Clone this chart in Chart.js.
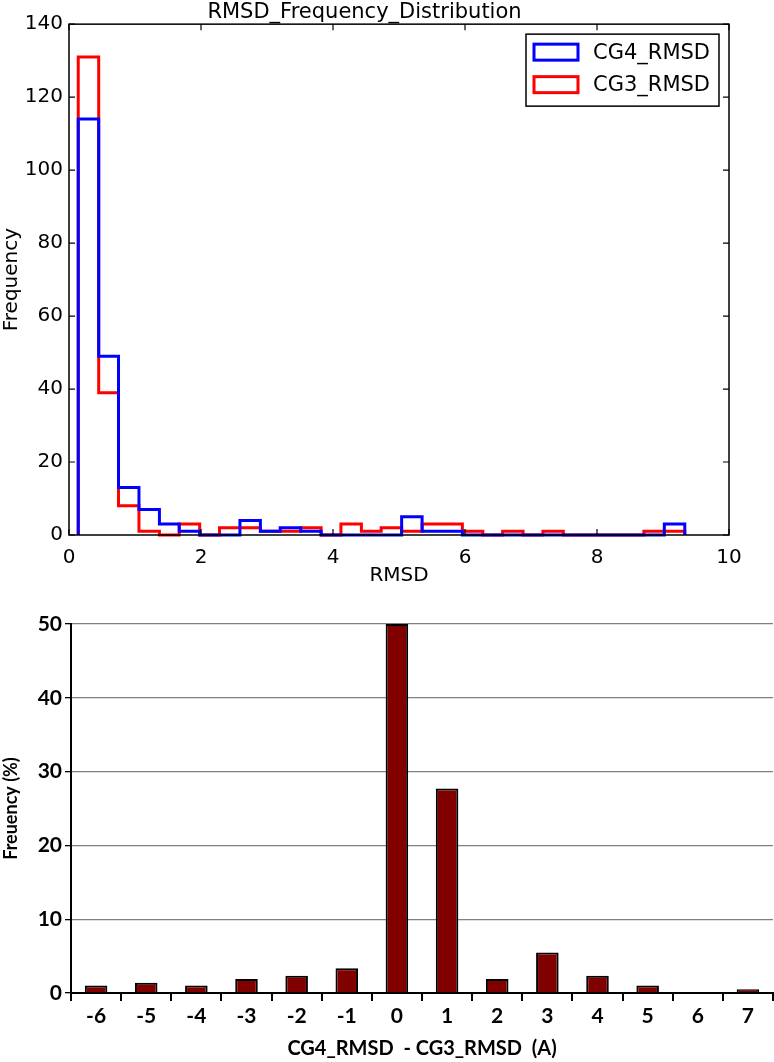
<!DOCTYPE html>
<html>
<head>
<meta charset="utf-8">
<script src="https://cdn.jsdelivr.net/npm/chart.js@4.4.1/dist/chart.umd.min.js"></script>
<style>
  html, body { margin: 0; padding: 0; background: #fff; }
  canvas { display: block; }
</style>
</head>
<body>
<canvas id="histChart" width="774" height="590"></canvas>
<canvas id="diffChart" width="774" height="472"></canvas>
<script>
// ── Data ──────────────────────────────────────────────────────────────────────
// histogram bin edges (RMSD, 30 bins)
const BIN_EDGES = [0.14, 0.45, 0.75, 1.06, 1.37, 1.67, 1.98, 2.28, 2.59, 2.90,
                   3.20, 3.51, 3.82, 4.12, 4.43, 4.73, 5.04, 5.35, 5.65, 5.96,
                   6.27, 6.57, 6.88, 7.18, 7.49, 7.80, 8.10, 8.41, 8.71, 9.02, 9.33];
const CG4_COUNTS = [114, 49, 13, 7, 3, 1, 0, 0, 4, 1, 2, 1, 0, 0, 0,
                    0, 5, 1, 1, 0, 0, 0, 0, 0, 0, 0, 0, 0, 0, 3];
const CG3_COUNTS = [131, 39, 8, 1, 0, 3, 0, 2, 2, 1, 1, 2, 0, 3, 1,
                    2, 1, 3, 3, 1, 0, 1, 0, 1, 0, 0, 0, 0, 1, 1];

const DIFF_LABELS = ['-6', '-5', '-4', '-3', '-2', '-1', '0', '1', '2', '3', '4', '5', '6', '7'];
const DIFF_PCT    = [1.0, 1.4, 1.0, 1.9, 2.35, 3.35, 50, 27.7, 1.9, 5.5, 2.35, 1.0, 0, 0.5];

// ── Helpers ───────────────────────────────────────────────────────────────────
// step outline like a matplotlib 'step' histogram
function stepPoints(edges, counts) {
  const pts = [{ x: edges[0], y: 0 }];
  counts.forEach((c, i) => pts.push({ x: edges[i], y: c }));
  pts.push({ x: edges[edges.length - 1], y: 0 });
  return pts;
}

const MPL_FONT = "'DejaVu Sans', sans-serif";
const XL_FONT  = "Lato, 'Open Sans', sans-serif";

// frame + inward ticks on all four sides
const frameTicks = {
  id: 'frameTicks',
  afterDraw(chart) {
    const { ctx, chartArea: a, scales: { x, y } } = chart;
    ctx.save();
    ctx.strokeStyle = '#000';
    ctx.lineWidth = 1.5;
    ctx.strokeRect(a.left, a.top, a.width, a.height);
    ctx.lineWidth = 1.2;
    ctx.beginPath();
    x.ticks.forEach(t => {
      const px = x.getPixelForValue(t.value);
      ctx.moveTo(px, a.bottom); ctx.lineTo(px, a.bottom - 6);
      ctx.moveTo(px, a.top);    ctx.lineTo(px, a.top + 6);
    });
    y.ticks.forEach(t => {
      const py = y.getPixelForValue(t.value);
      ctx.moveTo(a.left, py);  ctx.lineTo(a.left + 6, py);
      ctx.moveTo(a.right, py); ctx.lineTo(a.right - 6, py);
    });
    ctx.stroke();
    ctx.restore();
  }
};

// boxed legend inside the plot, upper right
const boxLegend = {
  id: 'boxLegend',
  afterDraw(chart) {
    const { ctx, chartArea: a } = chart;
    const w = 193, h = 72;
    const bx = a.right - 10 - w, by = a.top + 10;
    ctx.save();
    ctx.fillStyle = '#fff';
    ctx.fillRect(bx, by, w, h);
    ctx.strokeStyle = '#000';
    ctx.lineWidth = 1.5;
    ctx.strokeRect(bx, by, w, h);
    chart.data.datasets.forEach((ds, i) => {
      const cy = by + 18 + i * 32.5;
      ctx.strokeStyle = ds.borderColor;
      ctx.lineWidth = 3;
      ctx.strokeRect(bx + 8, cy - 8, 44, 16);
      ctx.fillStyle = '#000';
      ctx.font = '21px ' + MPL_FONT;
      ctx.textBaseline = 'middle';
      ctx.fillText(ds.label, bx + 67, cy + 1);
    });
    ctx.restore();
  }
};

// ── 1. RMSD histogram ─────────────────────────────────────────────────────────
new Chart(document.getElementById('histChart'), {
  type: 'line',
  data: {
    datasets: [
      {
        label: 'CG4_RMSD',
        data: stepPoints(BIN_EDGES, CG4_COUNTS),
        borderColor: '#0000ff',
        borderWidth: 3,
        stepped: 'before',
        pointRadius: 0,
        fill: false,
        clip: false,
      },
      {
        label: 'CG3_RMSD',
        data: stepPoints(BIN_EDGES, CG3_COUNTS),
        borderColor: '#ff0000',
        borderWidth: 3,
        stepped: 'before',
        pointRadius: 0,
        fill: false,
        clip: false,
      }
    ]
  },
  options: {
    responsive: false,
    animation: false,
    layout: { padding: { left: 0, right: 45, top: 0, bottom: 0 } },
    plugins: {
      legend: { display: false },
      tooltip: { enabled: false },
      title: {
        display: true,
        text: 'RMSD_Frequency_Distribution',
        color: '#000',
        font: { family: MPL_FONT, size: 21, weight: 'normal', lineHeight: 1.15 },
        padding: { top: 0, bottom: 0 }
      }
    },
    scales: {
      x: {
        type: 'linear',
        min: 0, max: 10,
        afterFit: s => { s.height = 55; },
        ticks: { stepSize: 2, color: '#000', padding: 11, font: { family: MPL_FONT, size: 20 } },
        grid: { display: false, drawTicks: false },
        border: { display: false },
        title: {
          display: true, text: 'RMSD', color: '#000',
          font: { family: MPL_FONT, size: 20 }, padding: { top: 0, bottom: 2 }
        }
      },
      y: {
        min: 0, max: 140,
        afterFit: s => { s.width = 69; },
        ticks: { stepSize: 20, color: '#000', padding: 6, font: { family: MPL_FONT, size: 20 } },
        grid: { display: false, drawTicks: false },
        border: { display: false },
        title: {
          display: true, text: 'Frequency', color: '#000',
          font: { family: MPL_FONT, size: 20 }, padding: { top: 0, bottom: 0 }
        }
      }
    }
  },
  plugins: [frameTicks, boxLegend]
});

// ── 2. RMSD difference distribution ──────────────────────────────────────────
new Chart(document.getElementById('diffChart'), {
  type: 'bar',
  data: {
    labels: DIFF_LABELS,
    datasets: [{
      label: 'Freuency (%)',
      data: DIFF_PCT,
      backgroundColor: '#800000',
      borderColor: '#000',
      borderWidth: 2,
      barPercentage: 0.45,
      categoryPercentage: 1,
    }]
  },
  options: {
    responsive: false,
    animation: false,
    layout: { padding: { left: 0, right: 1, top: 34, bottom: 0 } },
    plugins: { legend: { display: false }, tooltip: { enabled: false } },
    scales: {
      x: {
        afterFit: s => { s.height = 69; },
        grid: { offset: true, drawOnChartArea: false, color: '#000', tickColor: '#000', tickLength: 8, lineWidth: 2 },
        border: { color: '#000', width: 2 },
        ticks: { color: '#000', padding: 3, font: { family: XL_FONT, size: 21, weight: 'bold' } },
        title: {
          display: true, text: 'CG4_RMSD  - CG3_RMSD  (A)', color: '#000',
          font: { family: XL_FONT, size: 20, weight: 'bold' }, padding: { top: 0, bottom: 1 }
        }
      },
      y: {
        min: 0, max: 50,
        afterFit: s => { s.width = 71; },
        grid: { color: '#7f7f7f', lineWidth: 1.3, tickColor: '#000', tickLength: 6 },
        border: { color: '#000', width: 2 },
        ticks: { stepSize: 10, color: '#000', padding: 3, font: { family: XL_FONT, size: 21, weight: 'bold' } },
        title: {
          display: true, text: 'Freuency (%)', color: '#000',
          font: { family: XL_FONT, size: 18, weight: 'bold' }, padding: { top: 0, bottom: 0 }
        }
      }
    }
  }
});
</script>
</body>
</html>
